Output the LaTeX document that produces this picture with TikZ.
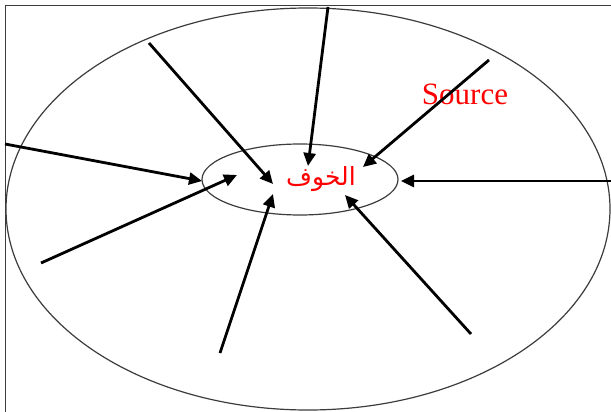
\documentclass[tikz,border=0pt]{standalone}
\usepackage{fontspec}
\setmainfont{Liberation Serif}
\newfontfamily\arabicfont[Script=Arabic]{DejaVu Sans}
\TeXXeTstate=1
\usetikzlibrary{arrows.meta}
\definecolor{linegray}{RGB}{60,60,60}
\tikzset{
  ring/.style={draw=linegray, line width=1.2pt},
  framelines/.style={draw=linegray, line width=1pt},
  inarrow/.style={draw=black, line width=2.8pt, -{Triangle[length=13pt,width=12pt]}},
  lbl/.style={text=red, inner sep=0pt}
}
\begin{document}
\begin{tikzpicture}[x=1pt,y=-1pt]
\useasboundingbox (0,0) rectangle (611,412);
\draw[framelines] (5,412) -- (5,6) -- (611,6);
% outer and inner ellipses
\draw[ring] (308,209) ellipse [x radius=302, y radius=201];
\draw[ring] (300,179.5) ellipse [x radius=98, y radius=35.5];
% labels
\node[lbl, font=\fontsize{31}{34}\selectfont, anchor=base] (src) at (465,105) {Source};
\node[lbl, font=\arabicfont\fontsize{25}{29}\selectfont] (fear) at (321,179) {\beginR الخوف\endR};
% arrow coordinates
\coordinate (s1) at (328,7);   \coordinate (e1) at (308,166);
\coordinate (s2) at (149,43);  \coordinate (e2) at (273,184);
\coordinate (s3) at (5,144);   \coordinate (e3) at (202,181);
\coordinate (s4) at (41,263);  \coordinate (e4) at (237,175);
\coordinate (s5) at (220,353); \coordinate (e5) at (273,194);
\coordinate (s6) at (471,334); \coordinate (e6) at (345,195);
\coordinate (s7) at (611,181); \coordinate (e7) at (401,181);
\coordinate (s8) at (489,60);  \coordinate (e8) at (363,167);
\foreach \i in {1,...,8} \draw[inarrow] (s\i) -- (e\i);
\end{tikzpicture}
\end{document}
